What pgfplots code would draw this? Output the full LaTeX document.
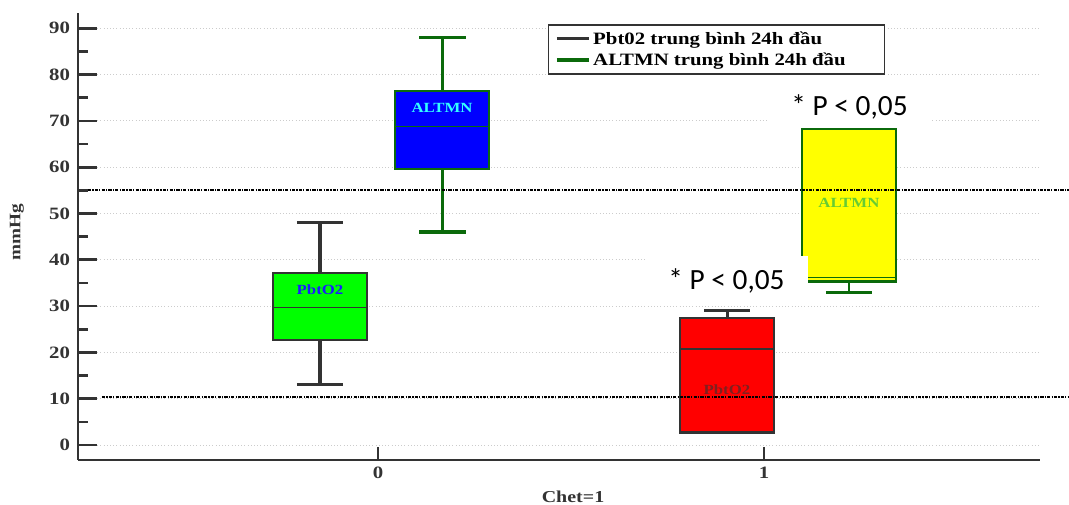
\documentclass[border=0pt]{standalone}
\usepackage{fontspec}
\setmainfont{Liberation Serif}[FakeStretch=1.2]
\newfontfamily\calibri{Carlito}
\usepackage{pgfplots}
\pgfplotsset{compat=1.18}
\definecolor{axgray}{HTML}{333333}
\definecolor{dkgreen}{HTML}{0B6A0B}
\definecolor{boxgreen}{HTML}{00FF00}
\definecolor{boxblue}{HTML}{0000FF}
\definecolor{boxred}{HTML}{FF0000}
\definecolor{boxyellow}{HTML}{FFFF00}
\definecolor{lblcyan}{HTML}{33FFFF}
\definecolor{lblblue}{HTML}{1A1AFF}
\definecolor{lbldred}{HTML}{7F2020}
\definecolor{lbllgreen}{HTML}{66CC33}
\begin{document}
\begin{tikzpicture}
\useasboundingbox (-58.5pt,-33.75pt) rectangle (743.25pt,345pt);
\begin{axis}[
  anchor=south west,
  scale only axis, width=721.5pt, height=335.25pt,
  xmin=-0.777, xmax=1.715, ymin=-3.24, ymax=93.3,
  clip=false,
  axis x line=bottom, axis y line=left,
  axis line style={-, line width=2.2pt, draw=axgray},
  xtick={0,1}, ytick={0,10,...,90}, minor ytick={5,15,...,85},
  tick align=inside, major tick length=14pt, minor tick length=7.5pt,
  tick style={line width=2pt, draw=axgray},
  xtick style={/pgfplots/major tick length=9.75pt},
  ymajorgrids, grid style={dotted, line width=0.6pt, gray!40},
  /pgf/number format/assume math mode=true,
  ticklabel style={font=\bfseries\fontsize{13}{15}\selectfont, text=axgray},
  yticklabel style={xshift=-2.5pt},
  xticklabel style={yshift=-1.5pt},
  xlabel={Chet=1}, ylabel={mmHg},
  xlabel style={at={(axis description cs:0.5146,-0.0828)}, anchor=center, font=\bfseries\fontsize{12.5}{14}\selectfont, text=axgray},
  ylabel style={at={(axis description cs:-0.0634,0.51)}, anchor=center, font=\bfseries\fontsize{12}{14}\selectfont, text=axgray},
  legend style={at={(0.4886,0.975)}, anchor=north west, draw=axgray, line width=1pt,
    font=\bfseries\fontsize{13}{15.75}\selectfont, inner xsep=5pt, inner ysep=3pt,
    row sep=1pt},
  legend cell align=left,
  legend image code/.code={\draw[#1] (0pt,0pt) -- (24pt,0pt);},
  every axis plot/.append style={forget plot, line join=miter},
]
% ---- group 0, PbtO2 (center -0.15): whiskers 13/48, box 22.7-37.1, median 29.7
\addplot[draw=axgray, line width=2.4pt] coordinates {(-0.15,13) (-0.15,48)};
\addplot[draw=axgray, line width=2.4pt] coordinates {(-0.21,13) (-0.09,13)};
\addplot[draw=axgray, line width=2.4pt] coordinates {(-0.21,48) (-0.09,48)};
\addplot[draw=axgray, fill=boxgreen, line width=1.3pt] coordinates {(-0.27175,22.7) (-0.02825,22.7) (-0.02825,37.1) (-0.27175,37.1)} -- cycle;
\addplot[draw=axgray, line width=1.3pt] coordinates {(-0.27175,29.7) (-0.02825,29.7)};
% ---- group 0, ALTMN (center 0.167): whiskers 46/88, box 59.5-76.5, median 68.8
\addplot[draw=dkgreen, line width=2.4pt] coordinates {(0.167,46) (0.167,88)};
\addplot[draw=dkgreen, line width=2.4pt] coordinates {(0.107,46) (0.227,46)};
\addplot[draw=dkgreen, line width=2.4pt] coordinates {(0.107,88) (0.227,88)};
\addplot[draw=dkgreen, fill=boxblue, line width=1.5pt] coordinates {(0.04525,59.5) (0.28875,59.5) (0.28875,76.5) (0.04525,76.5)} -- cycle;
\addplot[draw=dkgreen, line width=1.3pt] coordinates {(0.04525,68.8) (0.28875,68.8)};
% ---- group 1, PbtO2 (center 0.905): whiskers 2.7/29, box 2.7-27.4, median 20.7
\addplot[draw=axgray, line width=2pt] coordinates {(0.905,27.4) (0.905,29)};
\addplot[draw=axgray, line width=2pt] coordinates {(0.845,29) (0.965,29)};
\addplot[draw=axgray, fill=boxred, line width=1.6pt] coordinates {(0.78325,2.7) (1.02675,2.7) (1.02675,27.4) (0.78325,27.4)} -- cycle;
\addplot[draw=axgray, line width=1.1pt] coordinates {(0.78325,20.7) (1.02675,20.7)};
% ---- group 1, ALTMN (center 1.22): whiskers 33/68.3, box 35.3-68.3, median 36.1
\addplot[draw=dkgreen, line width=2pt] coordinates {(1.22,33) (1.22,35.3)};
\addplot[draw=dkgreen, line width=2pt] coordinates {(1.16,33) (1.28,33)};
\addplot[draw=dkgreen, fill=boxyellow, line width=1.6pt] coordinates {(1.09825,35.3) (1.34175,35.3) (1.34175,68.3) (1.09825,68.3)} -- cycle;
\addplot[draw=dkgreen, line width=0.9pt] coordinates {(1.09825,36.1) (1.34175,36.1)};
% ---- reference lines
\addplot[black, line width=1.3pt, dash pattern=on 2.4pt off 0.9pt on 0.9pt off 0.9pt]
  coordinates {(-0.751,55.1) (1.79,55.1)};
\addplot[black, line width=1.3pt, dash pattern=on 2.4pt off 0.9pt on 0.9pt off 0.9pt]
  coordinates {(-0.715,10.3) (1.79,10.3)};
% ---- box labels
\node[font=\bfseries\fontsize{10.5}{12}\selectfont, text=lblblue] at (axis cs:-0.15,33.5) {PbtO2};
\node[font=\bfseries\fontsize{10.5}{12}\selectfont, text=lblcyan] at (axis cs:0.166,72.8) {ALTMN};
\node[font=\bfseries\fontsize{10.5}{12}\selectfont, text=lbldred] at (axis cs:0.904,11.9) {PbtO2};
\node[font=\bfseries\fontsize{10.5}{12}\selectfont, text=lbllgreen] at (axis cs:1.22,52.3) {ALTMN};
% ---- annotations
\node[fill=white, minimum width=122pt, minimum height=37pt, inner sep=0pt, font=\calibri\fontsize{22}{24}\selectfont] at (axis cs:0.9028,35.5) {* P < 0,05};
\node[fill=white, minimum width=122pt, minimum height=29pt, inner sep=0pt, font=\calibri\fontsize{22}{24}\selectfont] at (axis cs:1.2215,72.9) {* P < 0,05};
% ---- legend
\addlegendimage{draw=axgray, line width=2.4pt}\addlegendentry{Pbt02 trung bình 24h đầu\hspace*{22pt}}
\addlegendimage{draw=dkgreen, line width=2.4pt}\addlegendentry{ALTMN trung bình 24h đầu\hspace*{22pt}}
\end{axis}
\end{tikzpicture}
\end{document}
